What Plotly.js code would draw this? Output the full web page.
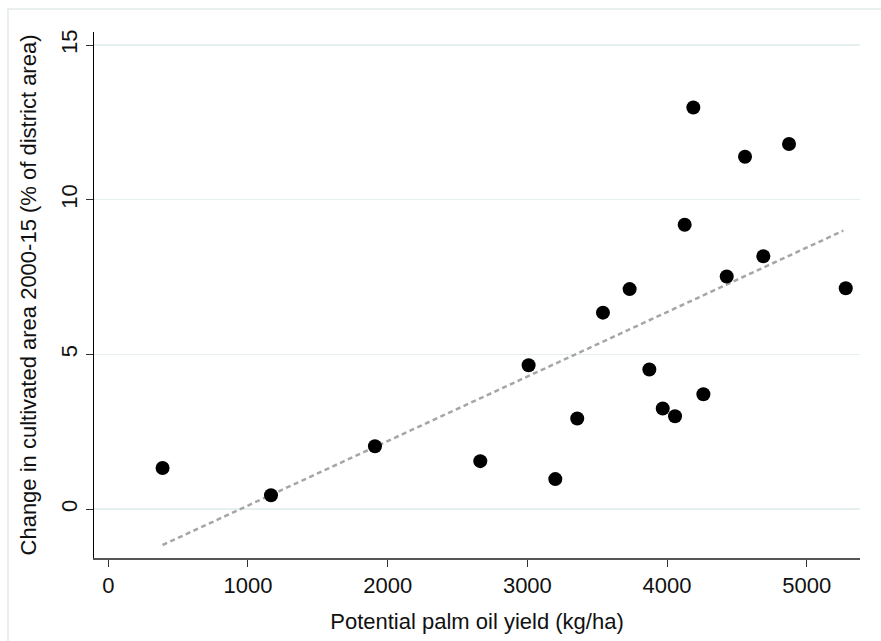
<!DOCTYPE html>
<html>
<head>
<meta charset="utf-8">
<script src="https://cdn.plot.ly/plotly-3.0.1.min.js"></script>
<style>
  html, body { margin: 0; padding: 0; background: #fff; }
  #chart { width: 881px; height: 641px; }
</style>
</head>
<body>
<div id="chart"></div>
<script>
// district points: potential yield (kg/ha) vs change in cultivated area (% of district)
let yieldKgHa = [389, 1165, 1909, 2663, 3009, 3200, 3357, 3541, 3732, 3873,
                 3969, 4057, 4126, 4188, 4260, 4427, 4558, 4689, 4873, 5279];
let areaChange = [1.33, 0.45, 2.03, 1.55, 4.65, 0.97, 2.93, 6.35, 7.11, 4.51,
                  3.25, 3.0, 9.19, 12.98, 3.71, 7.52, 11.39, 8.17, 11.8, 7.14];

// linear fit line, endpoints
let fitX = [389, 5262];
let fitY = [-1.16, 9.0];

let xTicks = [0, 1000, 2000, 3000, 4000, 5000];
let yTicks = [0, 5, 10, 15];

let chart = document.getElementById('chart');
let font = 'Liberation Sans, Arial, sans-serif';

let traces = [
    {
        type: 'scatter',
        mode: 'lines',
        x: fitX,
        y: fitY,
        line: {color: '#a6a6a6', width: 2.5, dash: '5px,3.5px'},
        hoverinfo: 'skip'
    },
    {
        type: 'scatter',
        mode: 'markers',
        x: yieldKgHa,
        y: areaChange,
        marker: {color: '#000', size: 14, line: {width: 0}}
    }
];

let layout = {
    width: 881,
    height: 641,
    showlegend: false,
    paper_bgcolor: '#fff',
    plot_bgcolor: '#fff',
    margin: {l: 94, r: 21, t: 32, b: 83},
    font: {family: font, size: 22, color: '#111'},
    xaxis: {
        range: [-102, 5381],
        tickvals: xTicks,
        ticktext: xTicks.map(String),
        ticks: 'outside',
        ticklen: 7,
        tickwidth: 1,
        tickcolor: '#333',
        showgrid: false,
        zeroline: false,
        showline: true,
        linecolor: '#555',
        linewidth: 2,
        tickfont: {family: font, size: 22, color: '#111'},
        title: {text: 'Potential palm oil yield (kg/ha)', standoff: 16,
                font: {family: font, size: 22, color: '#111'}}
    },
    yaxis: {
        range: [-1.58, 15.42],
        tickvals: yTicks,
        ticktext: yTicks.map(String),
        tickangle: -90,
        ticks: 'outside',
        ticklen: 7,
        tickwidth: 1,
        tickcolor: '#333',
        showgrid: true,
        gridcolor: '#e6f0f1',
        gridwidth: 1.5,
        zeroline: false,
        showline: true,
        linecolor: '#000',
        linewidth: 1.5,
        tickfont: {family: font, size: 22, color: '#111'},
        title: {text: 'Change in cultivated area 2000-15 (% of district area)', standoff: 14,
                font: {family: font, size: 22, color: '#111'}}
    },
    shapes: [{
        type: 'rect', xref: 'paper', yref: 'paper',
        x0: -0.1123, x1: 1.05, y0: -0.2, y1: 1.0437,
        line: {color: '#e3eaea', width: 1.5},
        fillcolor: 'rgba(0,0,0,0)',
        layer: 'below'
    }]
};

Plotly.newPlot(chart, traces, layout, {displayModeBar: false, staticPlot: true});
</script>
</body>
</html>
